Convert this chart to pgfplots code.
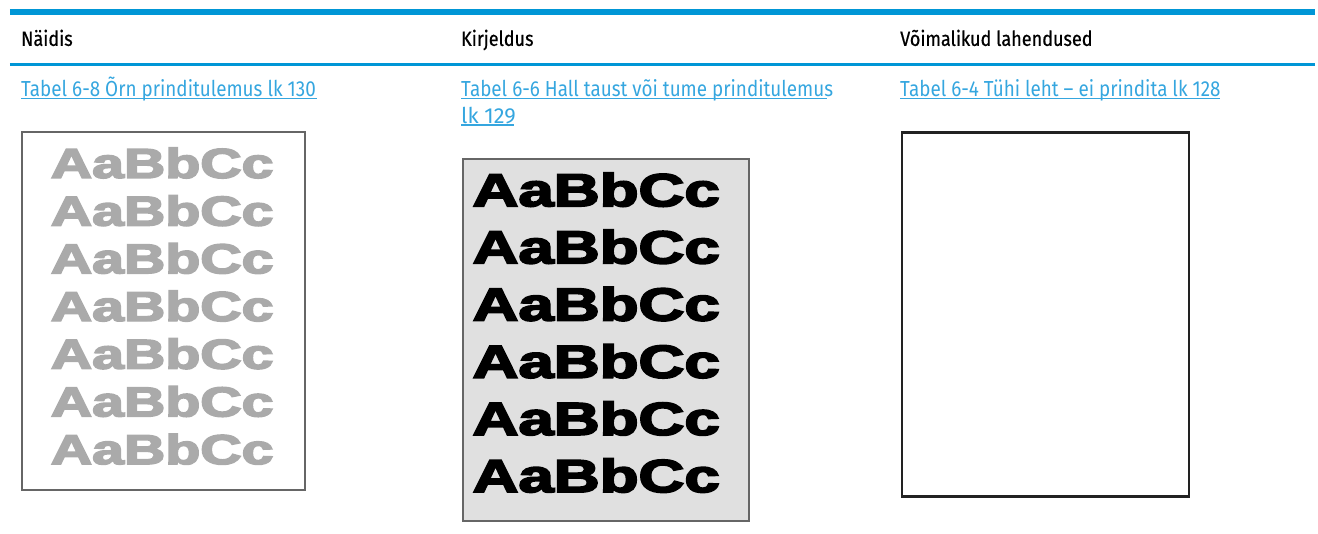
\documentclass[border=0pt]{standalone}
\usepackage{pgfplots}
\pgfplotsset{compat=1.18}
\usepackage{fontspec}
\setmainfont{Fira Sans}
\newfontfamily\hdr{Fira Sans}[FakeBold=0.6]
\newfontfamily\heavy{Liberation Sans}[BoldFeatures={FakeBold=3.5}]
\definecolor{hpblue}{HTML}{0096D6}
\definecolor{linkblue}{HTML}{35A6DF}
\definecolor{fadegray}{HTML}{AAAAAA}
\definecolor{bggray}{HTML}{E0E0E0}
\definecolor{frame1}{HTML}{666666}
\definecolor{frame3}{HTML}{222222}
\begin{document}
\begin{tikzpicture}
\begin{axis}[
  scale only axis, width=1318pt, height=535pt,
  xmin=0, xmax=1318, ymin=0, ymax=535, y dir=reverse,
  hide axis, clip=false]
\path (axis cs:0,0) rectangle (axis cs:1318,535);
% rules
\addplot[hpblue, line width=5.7pt] coordinates {(10,12.2) (1318,12.2)};
\addplot[hpblue, line width=2.7pt] coordinates {(10,64.7) (1318,64.7)};
% headers
\node[anchor=base west, inner sep=0, xscale=0.87, font=\hdr\fontsize{20.8}{24}\selectfont] at (axis cs:21,46) {Näidis};
\node[anchor=base west, inner sep=0, xscale=0.87, font=\hdr\fontsize{20.8}{24}\selectfont] at (axis cs:462,46) {Kirjeldus};
\node[anchor=base west, inner sep=0, xscale=0.87, font=\hdr\fontsize{20.8}{24}\selectfont] at (axis cs:902,46) {Võimalikud lahendused};
% links
\node[anchor=base west, inner sep=0, xscale=0.867, text=linkblue, font=\fontsize{21.8}{26}\selectfont] at (axis cs:21,96.7) {Tabel 6-8 Õrn prinditulemus lk 130};
\node[anchor=base west, inner sep=0, xscale=0.867, text=linkblue, font=\fontsize{21.8}{26}\selectfont] at (axis cs:462,96.7) {Tabel 6-6 Hall taust või tume prinditulemus};
\node[anchor=base west, inner sep=0, xscale=1.0, text=linkblue, font=\fontsize{21.8}{26}\selectfont] at (axis cs:462,123.3) {lk 129};
\node[anchor=base west, inner sep=0, xscale=0.867, text=linkblue, font=\fontsize{21.8}{26}\selectfont] at (axis cs:902,96.7) {Tabel 6-4 Tühi leht – ei prindita lk 128};
\addplot[linkblue, line width=1.3pt] coordinates {(21,98.8) (318,98.8)};
\addplot[linkblue, line width=1.3pt] coordinates {(462,98.8) (829,98.8)};
\addplot[linkblue, line width=1.3pt] coordinates {(462,125.4) (515,125.4)};
\addplot[linkblue, line width=1.3pt] coordinates {(902,98.8) (1222.7,98.8)};
% sample boxes
\addplot[draw=frame1, fill=white, line width=2pt] coordinates {(22,132.7) (305.7,132.7) (305.7,490.7) (22,490.7)} -- cycle;
\addplot[draw=frame1, fill=bggray, line width=2pt] coordinates {(464.3,159.3) (750.7,159.3) (750.7,522.3) (464.3,522.3)} -- cycle;
\addplot[draw=frame3, fill=white, line width=2.5pt] coordinates {(904,133) (1191.5,133) (1191.5,497.8) (904,497.8)} -- cycle;
% sample text
\pgfplotsinvokeforeach{178.3,226.1,273.9,321.7,369.5,417.3,465.1}{
  \node[anchor=base, inner sep=0, xscale=1.37, text=fadegray, font=\heavy\bfseries\fontsize{41.9}{50}\selectfont] at (axis cs:162.5,#1) {AaBbCc};
}
\pgfplotsinvokeforeach{206.7,264.0,321.3,378.6,435.9,493.2}{
  \node[anchor=base, inner sep=0, xscale=1.37, text=black, font=\heavy\bfseries\fontsize{46.5}{55}\selectfont] at (axis cs:597.5,#1) {AaBbCc};
}
\end{axis}
\end{tikzpicture}
\end{document}
